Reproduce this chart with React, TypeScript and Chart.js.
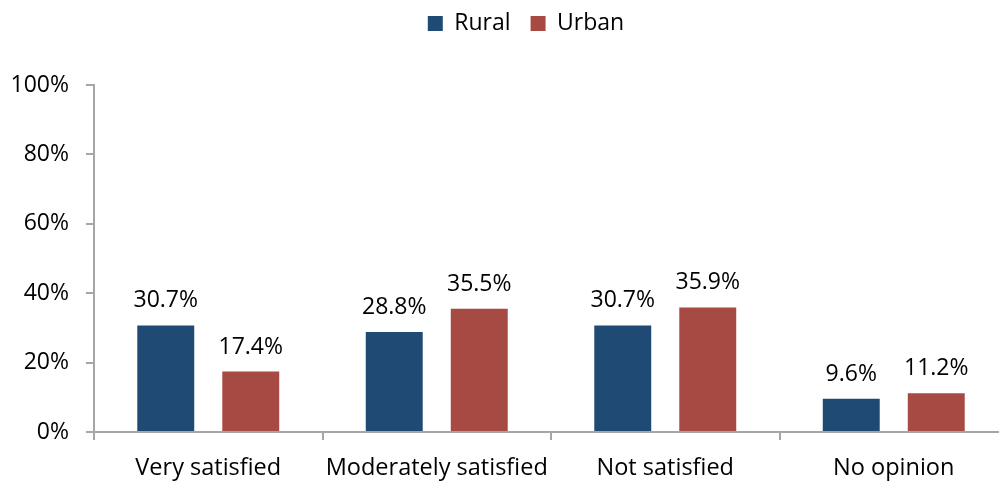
import React, { useEffect, useRef } from "react";
import { Chart, registerables } from "chart.js";

Chart.register(...registerables);

const categories = ["Very satisfied", "Moderately satisfied", "Not satisfied", "No opinion"];
const rural = [30.7, 28.8, 30.7, 9.6];
const urban = [17.4, 35.5, 35.9, 11.2];
const yTicks = [0, 20, 40, 60, 80, 100];

const FONT = "'Open Sans', sans-serif";
const AXIS = "#A6A6A6";

const valueLabels = {
  id: "valueLabels",
  afterDatasetsDraw(chart: any) {
    const ctx = chart.ctx;
    ctx.save();
    ctx.font = `23px ${FONT}`;
    ctx.fillStyle = "#000";
    ctx.textAlign = "center";
    ctx.textBaseline = "alphabetic";
    chart.data.datasets.forEach((ds: any, i: number) => {
      const meta = chart.getDatasetMeta(i);
      meta.data.forEach((bar: any, j: number) => {
        ctx.fillText(`${Number(ds.data[j]).toFixed(1)}%`, bar.x, bar.y - 18);
      });
    });
    ctx.restore();
  },
};

const legendSpace = {
  id: "legendSpace",
  beforeInit(chart: any) {
    const legend = chart.legend;
    if (!legend) return;
    const origFit = legend.fit.bind(legend);
    legend.fit = function () {
      origFit();
      this.height += 32;
    };
  },
  afterLayout(chart: any) {
    const legend = chart.legend;
    if (!legend) return;
    legend.left += 22;
    legend.right += 22;
    legend.top -= 8;
    legend.bottom -= 8;
  },
};

export default function App() {
  const ref = useRef<HTMLCanvasElement | null>(null);
  useEffect(() => {
    if (!ref.current) return;
    const chart = new Chart(ref.current, {
      type: "bar",
      data: {
        labels: categories,
        datasets: [
          { label: "Rural", data: rural, backgroundColor: "#1F4A73", categoryPercentage: 0.744, barPercentage: 0.67 },
          { label: "Urban", data: urban, backgroundColor: "#A84A44", categoryPercentage: 0.744, barPercentage: 0.67 },
        ],
      },
      plugins: [legendSpace, valueLabels],
      options: {
        responsive: true,
        maintainAspectRatio: false,
        animation: false,
        layout: { padding: { top: 0, right: 2, bottom: 0, left: 0 } },
        plugins: {
          legend: {
            position: "top",
            labels: {
              boxWidth: 15,
              boxHeight: 15,
              padding: 20,
              color: "#000",
              font: { family: FONT, size: 23 },
            },
          },
          tooltip: { enabled: false },
        },
        scales: {
          x: {
            afterFit: (scale: any) => {
              scale.height = 50;
            },
            grid: { display: true, offset: true, drawOnChartArea: false, drawTicks: true, tickLength: 8, color: AXIS, lineWidth: 2 },
            border: { display: true, color: AXIS, width: 2 },
            ticks: { color: "#000", font: { family: FONT, size: 23.5 }, padding: 14 },
          },
          y: {
            min: 0,
            max: 100,
            afterBuildTicks: (scale: any) => {
              scale.ticks = yTicks.map((v) => ({ value: v }));
            },
            afterFit: (scale: any) => {
              scale.width = 94;
            },
            grid: { display: true, drawOnChartArea: false, drawTicks: true, tickLength: 8, color: AXIS, lineWidth: 2 },
            border: { display: true, color: AXIS, width: 2 },
            ticks: {
              color: "#000",
              font: { family: FONT, size: 23 },
              padding: 17,
              callback: (v: any) => `${v}%`,
            },
          },
        },
      },
    });
    return () => chart.destroy();
  }, []);
  return (
    <div style={{ position: "absolute", left: 0, top: 0, width: 1010, height: 482 }}>
      <canvas ref={ref} />
    </div>
  );
}
